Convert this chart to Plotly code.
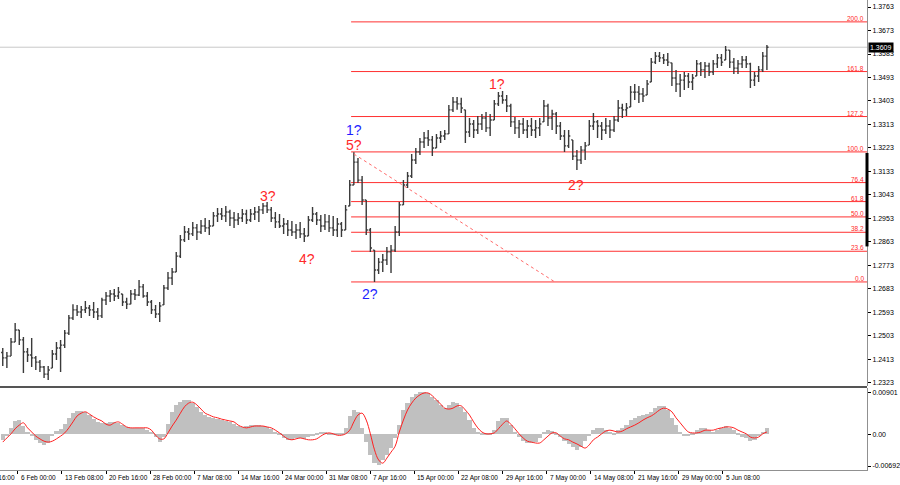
import plotly.graph_objects as go

# ---------------- data (price bars, sampled every 3 H4 bars) ----------------
high = [1.2457, 1.2442, 1.2495, 1.2553, 1.2526, 1.2499, 1.2457, 1.2495, 1.2426, 1.2411,
        1.2388, 1.2388, 1.2449, 1.2480, 1.2488, 1.2526, 1.2583, 1.2625, 1.2622, 1.2618,
        1.2637, 1.2622, 1.2633, 1.2610, 1.2649, 1.2671, 1.2679, 1.2683, 1.2691, 1.2664,
        1.2649, 1.2679, 1.2683, 1.2717, 1.2702, 1.2671, 1.2641, 1.2622, 1.2633, 1.2698,
        1.2748, 1.2763, 1.2825, 1.2890, 1.2924, 1.2917, 1.2940, 1.2932, 1.2947, 1.2955,
        1.2947, 1.2978, 1.2993, 1.2993, 1.3001, 1.2986, 1.2978, 1.2974, 1.2989, 1.2986,
        1.2989, 1.2997, 1.3001, 1.3012, 1.3016, 1.2997, 1.2978, 1.2970, 1.2955, 1.2947,
        1.2943, 1.2932, 1.2940, 1.2917, 1.2963, 1.2997, 1.2978, 1.2966, 1.2970, 1.2966,
        1.2963, 1.2955, 1.2940, 1.3005, 1.3100, 1.3207, 1.3185, 1.3116, 1.3024, 1.2917,
        1.2832, 1.2802, 1.2817, 1.2844, 1.2851, 1.2924, 1.3016, 1.3100, 1.3131, 1.3200,
        1.3223, 1.3261, 1.3284, 1.3292, 1.3269, 1.3277, 1.3288, 1.3292, 1.3388, 1.3418,
        1.3418, 1.3415, 1.3369, 1.3338, 1.3330, 1.3346, 1.3353, 1.3361, 1.3353, 1.3407,
        1.3437, 1.3441, 1.3426, 1.3392, 1.3342, 1.3330, 1.3338, 1.3330, 1.3338, 1.3330,
        1.3338, 1.3407, 1.3392, 1.3369, 1.3361, 1.3323, 1.3292, 1.3292, 1.3254, 1.3215,
        1.3231, 1.3246, 1.3330, 1.3357, 1.3330, 1.3323, 1.3338, 1.3330, 1.3346, 1.3407,
        1.3392, 1.3395, 1.3460, 1.3468, 1.3460, 1.3453, 1.3483, 1.3568, 1.3591, 1.3591,
        1.3583, 1.3587, 1.3549, 1.3522, 1.3506, 1.3514, 1.3510, 1.3506, 1.3560, 1.3552,
        1.3552, 1.3549, 1.3560, 1.3583, 1.3583, 1.3614, 1.3598, 1.3568, 1.3560, 1.3575,
        1.3575, 1.3549, 1.3514, 1.3537, 1.3591, 1.3617]

low = [1.2388, 1.2380, 1.2426, 1.2480, 1.2468, 1.2361, 1.2403, 1.2384, 1.2373, 1.2365,
       1.2342, 1.2334, 1.2380, 1.2411, 1.2365, 1.2457, 1.2507, 1.2564, 1.2580, 1.2572,
       1.2591, 1.2580, 1.2572, 1.2564, 1.2572, 1.2622, 1.2633, 1.2637, 1.2645, 1.2618,
       1.2606, 1.2625, 1.2641, 1.2656, 1.2649, 1.2618, 1.2587, 1.2572, 1.2557, 1.2622,
       1.2679, 1.2698, 1.2748, 1.2802, 1.2863, 1.2871, 1.2886, 1.2871, 1.2894, 1.2901,
       1.2890, 1.2924, 1.2940, 1.2947, 1.2940, 1.2924, 1.2917, 1.2928, 1.2940, 1.2932,
       1.2940, 1.2947, 1.2940, 1.2970, 1.2974, 1.2940, 1.2917, 1.2917, 1.2894, 1.2886,
       1.2886, 1.2874, 1.2878, 1.2863, 1.2886, 1.2940, 1.2928, 1.2901, 1.2909, 1.2901,
       1.2886, 1.2882, 1.2882, 1.2909, 1.3001, 1.3081, 1.3089, 1.3005, 1.2890, 1.2825,
       1.2710, 1.2740, 1.2748, 1.2775, 1.2744, 1.2825, 1.2886, 1.3005, 1.3070, 1.3108,
       1.3162, 1.3196, 1.3223, 1.3231, 1.3192, 1.3223, 1.3242, 1.3254, 1.3277, 1.3361,
       1.3369, 1.3357, 1.3242, 1.3265, 1.3261, 1.3277, 1.3292, 1.3284, 1.3269, 1.3330,
       1.3384, 1.3392, 1.3361, 1.3303, 1.3277, 1.3261, 1.3277, 1.3261, 1.3269, 1.3261,
       1.3269, 1.3323, 1.3307, 1.3292, 1.3277, 1.3254, 1.3208, 1.3223, 1.3177, 1.3139,
       1.3162, 1.3177, 1.3234, 1.3292, 1.3261, 1.3254, 1.3277, 1.3261, 1.3284, 1.3323,
       1.3338, 1.3346, 1.3380, 1.3407, 1.3395, 1.3399, 1.3426, 1.3476, 1.3545, 1.3552,
       1.3545, 1.3537, 1.3460, 1.3437, 1.3418, 1.3445, 1.3453, 1.3445, 1.3499, 1.3499,
       1.3491, 1.3499, 1.3503, 1.3529, 1.3537, 1.3560, 1.3529, 1.3506, 1.3506, 1.3529,
       1.3529, 1.3453, 1.3460, 1.3476, 1.3514, 1.3522]

close = [1.2419, 1.2426, 1.2480, 1.2526, 1.2488, 1.2442, 1.2430, 1.2419, 1.2403, 1.2384,
         1.2357, 1.2373, 1.2434, 1.2457, 1.2468, 1.2514, 1.2572, 1.2603, 1.2595, 1.2603,
         1.2610, 1.2603, 1.2595, 1.2580, 1.2641, 1.2656, 1.2664, 1.2656, 1.2671, 1.2633,
         1.2625, 1.2664, 1.2660, 1.2691, 1.2656, 1.2633, 1.2603, 1.2587, 1.2618, 1.2687,
         1.2725, 1.2748, 1.2809, 1.2871, 1.2901, 1.2894, 1.2917, 1.2901, 1.2924, 1.2917,
         1.2924, 1.2963, 1.2970, 1.2963, 1.2978, 1.2955, 1.2947, 1.2955, 1.2970, 1.2947,
         1.2970, 1.2978, 1.2986, 1.3001, 1.2986, 1.2955, 1.2940, 1.2924, 1.2932, 1.2909,
         1.2901, 1.2909, 1.2894, 1.2886, 1.2947, 1.2970, 1.2947, 1.2924, 1.2940, 1.2917,
         1.2909, 1.2932, 1.2909, 1.2986, 1.3081, 1.3169, 1.3100, 1.3024, 1.2909, 1.2840,
         1.2756, 1.2786, 1.2794, 1.2825, 1.2832, 1.2901, 1.3005, 1.3081, 1.3116, 1.3177,
         1.3208, 1.3246, 1.3261, 1.3254, 1.3223, 1.3261, 1.3269, 1.3277, 1.3369, 1.3399,
         1.3392, 1.3376, 1.3284, 1.3315, 1.3292, 1.3315, 1.3338, 1.3300, 1.3330, 1.3392,
         1.3422, 1.3407, 1.3384, 1.3323, 1.3300, 1.3315, 1.3292, 1.3307, 1.3292, 1.3300,
         1.3315, 1.3384, 1.3338, 1.3353, 1.3307, 1.3269, 1.3231, 1.3269, 1.3192, 1.3177,
         1.3215, 1.3231, 1.3307, 1.3323, 1.3307, 1.3292, 1.3307, 1.3292, 1.3330, 1.3376,
         1.3369, 1.3376, 1.3437, 1.3437, 1.3430, 1.3422, 1.3468, 1.3552, 1.3575, 1.3568,
         1.3560, 1.3552, 1.3491, 1.3468, 1.3483, 1.3499, 1.3476, 1.3491, 1.3545, 1.3522,
         1.3537, 1.3514, 1.3545, 1.3568, 1.3552, 1.3598, 1.3552, 1.3529, 1.3545, 1.3560,
         1.3545, 1.3483, 1.3499, 1.3522, 1.3575, 1.3609]

first_open = 1.2440

macd_hist = [-0.0012, -0.0004, 0.0014, 0.0029, 0.0031, 0.0018, 0.0005, -0.0004, -0.0012, -0.0019,
             -0.0023, -0.0019, -0.0004, 0.0007, 0.0012, 0.0022, 0.0036, 0.0046, 0.0051, 0.0051,
             0.0049, 0.0042, 0.0033, 0.0027, 0.0025, 0.0025, 0.0027, 0.0027, 0.0025, 0.0020,
             0.0016, 0.0014, 0.0014, 0.0014, 0.0014, 0.0009, 0.0005, -0.0006, -0.0017, -0.0006,
             0.0022, 0.0049, 0.0064, 0.0070, 0.0075, 0.0075, 0.0068, 0.0060, 0.0049, 0.0042,
             0.0038, 0.0036, 0.0033, 0.0031, 0.0029, 0.0027, 0.0022, 0.0018, 0.0016, 0.0018,
             0.0020, 0.0020, 0.0020, 0.0018, 0.0016, 0.0012, 0.0005, 0.0001, -0.0008, -0.0012,
             -0.0012, -0.0008, -0.0008, -0.0010, -0.0006, -0.0002, 0.0003, 0.0005, 0.0005, 0.0003,
             0.0001, 0.0001, 0.0001, 0.0014, 0.0040, 0.0053, 0.0049, 0.0014, -0.0017, -0.0045,
             -0.0063, -0.0067, -0.0056, -0.0045, -0.0030, -0.0008, 0.0020, 0.0053, 0.0068, 0.0081,
             0.0088, 0.0092, 0.0092, 0.0090, 0.0081, 0.0075, 0.0064, 0.0057, 0.0064, 0.0070,
             0.0068, 0.0060, 0.0049, 0.0031, 0.0014, 0.0005, 0.0001, 0.0001, 0.0001, 0.0009,
             0.0029, 0.0036, 0.0036, 0.0020, 0.0005, -0.0006, -0.0015, -0.0019, -0.0019, -0.0017,
             -0.0008, 0.0005, 0.0009, 0.0007, 0.0003, -0.0006, -0.0015, -0.0021, -0.0028, -0.0034,
             -0.0028, -0.0015, -0.0002, 0.0009, 0.0014, 0.0014, 0.0009, 0.0005, 0.0003, 0.0009,
             0.0014, 0.0020, 0.0031, 0.0036, 0.0040, 0.0042, 0.0044, 0.0049, 0.0057, 0.0062,
             0.0062, 0.0053, 0.0036, 0.0020, 0.0005, -0.0004, -0.0004, 0.0001, 0.0009, 0.0014,
             0.0014, 0.0009, 0.0005, 0.0009, 0.0014, 0.0018, 0.0014, 0.0009, 0.0001, -0.0006,
             -0.0008, -0.0015, -0.0012, -0.0004, 0.0005, 0.0014]

macd_signal = [-0.0017, -0.0008, 0.0001, 0.0012, 0.0020, 0.0025, 0.0014, 0.0005, -0.0004, -0.0010,
               -0.0015, -0.0017, -0.0015, -0.0010, -0.0004, 0.0003, 0.0014, 0.0027, 0.0040, 0.0046,
               0.0049, 0.0044, 0.0038, 0.0033, 0.0029, 0.0022, 0.0020, 0.0025, 0.0027, 0.0022,
               0.0016, 0.0014, 0.0014, 0.0014, 0.0014, 0.0014, 0.0009, -0.0002, -0.0010, -0.0010,
               0.0003, 0.0018, 0.0031, 0.0046, 0.0060, 0.0068, 0.0070, 0.0064, 0.0055, 0.0046,
               0.0042, 0.0038, 0.0036, 0.0033, 0.0031, 0.0029, 0.0027, 0.0020, 0.0016, 0.0014,
               0.0016, 0.0018, 0.0018, 0.0018, 0.0016, 0.0014, 0.0009, 0.0003, -0.0004, -0.0010,
               -0.0012, -0.0010, -0.0008, -0.0010, -0.0012, -0.0012, -0.0010, -0.0004, 0.0001, 0.0003,
               0.0001, -0.0002, -0.0002, 0.0001, 0.0009, 0.0027, 0.0042, 0.0046, 0.0031, 0.0001,
               -0.0034, -0.0056, -0.0063, -0.0052, -0.0039, -0.0026, 0.0005, 0.0031, 0.0053, 0.0068,
               0.0079, 0.0086, 0.0090, 0.0090, 0.0084, 0.0075, 0.0066, 0.0057, 0.0055, 0.0057,
               0.0062, 0.0062, 0.0053, 0.0042, 0.0027, 0.0014, 0.0005, 0.0001, 0.0001, 0.0003,
               0.0012, 0.0022, 0.0029, 0.0022, 0.0012, 0.0001, -0.0008, -0.0015, -0.0017, -0.0019,
               -0.0019, -0.0012, -0.0004, 0.0003, 0.0003, -0.0004, -0.0010, -0.0012, -0.0017, -0.0021,
               -0.0026, -0.0030, -0.0023, -0.0012, -0.0006, 0.0001, 0.0007, 0.0009, 0.0007, 0.0005,
               0.0007, 0.0012, 0.0016, 0.0020, 0.0025, 0.0031, 0.0036, 0.0040, 0.0046, 0.0053,
               0.0057, 0.0055, 0.0049, 0.0036, 0.0025, 0.0014, 0.0005, 0.0003, 0.0003, 0.0005,
               0.0009, 0.0009, 0.0009, 0.0012, 0.0014, 0.0016, 0.0016, 0.0014, 0.0009, 0.0005,
               0.0001, -0.0006, -0.0008, -0.0006, 0.0001, 0.0005]

date_labels = ["30 Jan 16:00", "6 Feb 00:00", "13 Feb 08:00", "20 Feb 16:00", "28 Feb 00:00",
               "7 Mar 08:00", "14 Mar 16:00", "24 Mar 00:00", "31 Mar 08:00", "7 Apr 16:00",
               "15 Apr 00:00", "22 Apr 08:00", "29 Apr 16:00", "7 May 00:00", "14 May 08:00",
               "21 May 16:00", "29 May 00:00", "5 Jun 08:00"]
date_tick_bars = [-32, 0, 32, 64, 96, 128, 160, 192, 224, 256, 288, 320, 352, 384, 416, 448, 480, 512]

price_ticks = [1.3763, 1.3673, 1.3583, 1.3493, 1.3403, 1.3313, 1.3223, 1.3133, 1.3043, 1.2953,
               1.2863, 1.2773, 1.2683, 1.2593, 1.2503, 1.2413, 1.2323]
macd_ticks = [0.00901, 0.0, -0.00692]
macd_tick_text = ["0.00901", "0.00", "-0.00692"]

fib_levels = [0.0, 23.6, 38.2, 50.0, 61.8, 76.4, 100.0, 127.2, 161.8, 200.0]
fib_low = 1.2710
fib_high = 1.3208
fib_start_bar = 244
fib_end_bar = 390

current_price = 1.3609

wave_text = ["1?", "5?", "2?", "3?", "4?", "1?", "2?"]
wave_bar = [244, 244, 256, 182, 210, 348, 405]
wave_price = [1.3292, 1.3234, 1.2664, 1.3039, 1.2798, 1.3468, 1.3081]
wave_color = ["#1f1fff", "#ff2a2a", "#1f1fff", "#ff2a2a", "#ff2a2a", "#ff2a2a", "#ff2a2a"]

# ---------------- build ----------------
first_bar = -11
bar_step = 3
bars = [first_bar + bar_step * i for i in range(len(close))]
opens = []
prev = first_open
for h, l, c in zip(high, low, close):
    opens.append(min(max(prev, l), h))
    prev = c

FONT = "Liberation Sans, Arial, sans-serif"
X_RANGE = [-13.0, 616.7]

fig = go.Figure()
fig.add_trace(go.Ohlc(
    x=bars, open=opens, high=high, low=low, close=close,
    increasing=dict(line=dict(color="#3a3a3a", width=1.4)),
    decreasing=dict(line=dict(color="#3a3a3a", width=1.4)),
    tickwidth=0.4, xaxis="x", yaxis="y", hoverinfo="skip"))
fig.add_trace(go.Bar(
    x=bars, y=macd_hist, width=bar_step, marker=dict(color="#c0c0c0", line=dict(width=0)),
    xaxis="x", yaxis="y2", hoverinfo="skip"))
fig.add_trace(go.Scatter(
    x=bars, y=macd_signal, mode="lines", line=dict(color="#ff2020", width=1, shape="spline"),
    xaxis="x", yaxis="y2", hoverinfo="skip"))

shapes = []
shapes.append(dict(type="line", xref="paper", x0=0, x1=1, yref="y", y0=current_price, y1=current_price,
                   line=dict(color="#c8c8c8", width=1), layer="below"))
for lv in fib_levels:
    p = fib_low + (fib_high - fib_low) * lv / 100.0
    shapes.append(dict(type="line", xref="x", x0=fib_start_bar - 2, x1=X_RANGE[1], yref="y", y0=p, y1=p,
                       line=dict(color="#ff3030", width=1), layer="below"))
shapes.append(dict(type="line", xref="x", x0=fib_start_bar, x1=fib_end_bar, yref="y",
                   y0=fib_high - 0.0008, y1=fib_low,
                   line=dict(color="#ff6a6a", width=1, dash="dot")))
shapes.append(dict(type="line", xref="paper", x0=0, x1=1, yref="paper", y0=0.1766, y1=0.1766,
                   line=dict(color="#555555", width=2)))
shapes.append(dict(type="line", xref="paper", x0=1, x1=1, yref="y", y0=1.3204, y1=1.2846,
                   line=dict(color="#000000", width=3)))

annotations = []
for lv in fib_levels:
    p = fib_low + (fib_high - fib_low) * lv / 100.0
    annotations.append(dict(xref="paper", x=1, xanchor="right", xshift=-1, yref="y", y=p,
                            yanchor="bottom", yshift=-2, text="%.1f" % lv, showarrow=False,
                            font=dict(family=FONT, size=6.5, color="#ff2a2a")))
for t, b, p, c in zip(wave_text, wave_bar, wave_price, wave_color):
    annotations.append(dict(xref="x", x=b, yref="y", y=p, text=t, showarrow=False,
                            font=dict(family=FONT, size=14, color=c)))
x_span = X_RANGE[1] - X_RANGE[0]
for t, b in zip(date_labels, date_tick_bars):
    annotations.append(dict(xref="paper", x=(b - X_RANGE[0]) / x_span, xanchor="left", xshift=1,
                            yref="paper", y=0, yanchor="top", yshift=-2, text=t, showarrow=False,
                            font=dict(family=FONT, size=6.5, color="#000000")))
annotations.append(dict(xref="paper", x=1, xanchor="left", xshift=1, yref="y", y=current_price,
                        yanchor="middle", text="%.4f" % current_price, showarrow=False,
                        bgcolor="#000000", borderpad=1,
                        font=dict(family=FONT, size=7, color="#ffffff")))

fig.update_layout(
    width=900, height=485,
    margin=dict(l=0, r=28, t=0, b=15),
    paper_bgcolor="white", plot_bgcolor="white",
    showlegend=False, bargap=0,
    font=dict(family=FONT, size=7, color="#000000"),
    xaxis=dict(range=X_RANGE, anchor="y2", showgrid=False, zeroline=False,
               showline=True, linecolor="#909090", linewidth=1,
               tickvals=date_tick_bars, showticklabels=False, ticks="outside",
               ticklen=3, tickcolor="#000000", rangeslider=dict(visible=False)),
    yaxis=dict(domain=[0.1787, 1.0], range=[1.23114, 1.37898], side="right", anchor="x",
               showgrid=False, zeroline=False, showline=True, linecolor="#909090", linewidth=1,
               tickvals=price_ticks, ticktext=["%.4f" % v for v in price_ticks],
               ticks="outside", ticklen=3, tickcolor="#000000",
               tickfont=dict(family=FONT, size=7, color="#000000")),
    yaxis2=dict(domain=[0.0, 0.1745], range=[-0.00779, 0.0101], side="right", anchor="x",
                showgrid=False, zeroline=False, showline=True, linecolor="#909090", linewidth=1,
                tickvals=macd_ticks, ticktext=macd_tick_text,
                ticks="outside", ticklen=3, tickcolor="#000000",
                tickfont=dict(family=FONT, size=7, color="#000000")),
    shapes=shapes, annotations=annotations,
)

fig.write_html("out.html", config={"displayModeBar": False},
               post_script="document.body.style.margin='0';document.body.style.padding='0';"
                           "document.body.style.overflow='hidden';")
